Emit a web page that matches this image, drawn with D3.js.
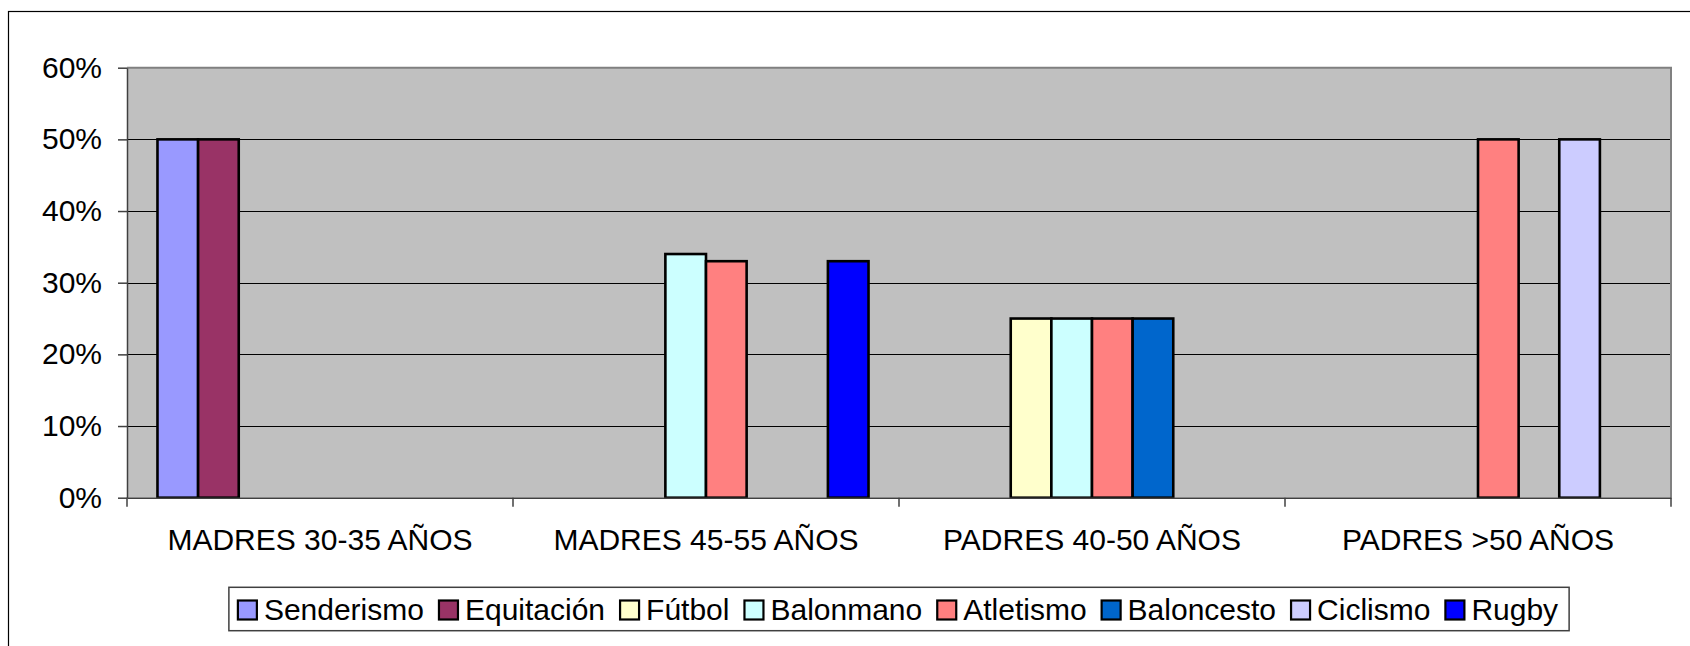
<!DOCTYPE html>
<html>
<head>
<meta charset="utf-8">
<script src="https://cdn.jsdelivr.net/npm/d3@7"></script>
<style>
  body { margin: 0; background: #fff; }
  svg { display: block; font-family: "Liberation Sans", Arial, sans-serif; }
</style>
</head>
<body>
<div id="chart"></div>
<script>
// categorias y series
var categories = ["MADRES 30-35 AÑOS", "MADRES 45-55 AÑOS", "PADRES 40-50 AÑOS", "PADRES >50 AÑOS"];
var seriesNames = ["Senderismo", "Equitación", "Fútbol", "Balonmano", "Atletismo", "Baloncesto", "Ciclismo", "Rugby"];
var seriesColors = ["#9999FF", "#993366", "#FFFFCC", "#CCFFFF", "#FF8080", "#0066CC", "#CCCCFF", "#0000FF"];

// valores por serie (null = sin barra)
var senderismo = [0.50, null, null, null];
var equitacion = [0.50, null, null, null];
var futbol     = [null, null, 0.25, null];
var balonmano  = [null, 0.34, 0.25, null];
var atletismo  = [null, 0.33, 0.25, 0.50];
var baloncesto = [null, null, 0.25, null];
var ciclismo   = [null, null, null, 0.50];
var rugby      = [null, 0.33, null, null];

var yTicks = [0, 0.1, 0.2, 0.3, 0.4, 0.5, 0.6];

var seriesValues = [senderismo, equitacion, futbol, balonmano, atletismo, baloncesto, ciclismo, rugby];

var width = 1690, height = 646;
var fontSize = 30;
var plot = { left: 127, right: 1671, top: 67.7, bottom: 497.7 };

var svg = d3.select("#chart").append("svg")
  .attr("width", width)
  .attr("height", height);

// borde exterior del grafico
svg.append("rect")
  .attr("x", 8.5).attr("y", 11.5)
  .attr("width", 1800).attr("height", 800)
  .attr("fill", "#fff")
  .attr("stroke", "#000")
  .attr("stroke-width", 1.2);

var x0 = d3.scaleBand().domain(categories).range([plot.left, plot.right]).padding(0);
var x1 = d3.scaleBand().domain(seriesNames).range([0, x0.bandwidth()]).paddingInner(0).paddingOuter(0.75);
var y = d3.scaleLinear().domain([0, 0.6]).range([plot.bottom, plot.top]);

// fondo del area de trazado
svg.append("rect")
  .attr("x", plot.left).attr("y", plot.top)
  .attr("width", plot.right - plot.left)
  .attr("height", plot.bottom - plot.top)
  .attr("fill", "#C0C0C0");

// lineas de division
svg.selectAll(".grid")
  .data(yTicks.filter(function(d) { return d > 0 && d < 0.6; }))
  .enter().append("line")
  .attr("x1", plot.left).attr("x2", plot.right)
  .attr("y1", function(d) { return Math.round(y(d)) + 0.5; })
  .attr("y2", function(d) { return Math.round(y(d)) + 0.5; })
  .attr("stroke", "#000")
  .attr("stroke-width", 1);

// borde del area de trazado
svg.append("path")
  .attr("d", "M" + plot.left + "," + plot.top + "H" + plot.right + "V" + plot.bottom)
  .attr("fill", "none")
  .attr("stroke", "#808080")
  .attr("stroke-width", 2);

// barras
var bars = [];
seriesNames.forEach(function(s, i) {
  seriesValues[i].forEach(function(v, j) {
    if (v != null) bars.push({ serie: s, color: seriesColors[i], cat: categories[j], value: v });
  });
});

svg.selectAll(".bar")
  .data(bars)
  .enter().append("rect")
  .attr("class", "bar")
  .attr("x", function(d) { return x0(d.cat) + x1(d.serie); })
  .attr("y", function(d) { return y(d.value); })
  .attr("width", x1.bandwidth())
  .attr("height", function(d) { return y(0) - y(d.value); })
  .attr("fill", function(d) { return d.color; })
  .attr("stroke", "#000")
  .attr("stroke-width", 2.6);

// eje Y
var yAxis = svg.append("g")
  .attr("transform", "translate(" + plot.left + ",0)")
  .call(d3.axisLeft(y).tickValues(yTicks).tickFormat(d3.format(".0%")).tickSize(9).tickPadding(16).tickSizeOuter(0));
yAxis.select(".domain").attr("stroke", "#404040").attr("stroke-width", 1.5);
yAxis.selectAll(".tick line").attr("stroke", "#404040").attr("stroke-width", 1.5);
yAxis.selectAll("text").attr("font-size", fontSize).attr("fill", "#000").attr("font-family", "Liberation Sans, Arial, sans-serif");

// eje X
var xAxis = svg.append("g")
  .attr("transform", "translate(0," + plot.bottom + ")")
  .call(d3.axisBottom(x0).tickSize(0).tickSizeOuter(0));
xAxis.select(".domain").attr("stroke", "#404040").attr("stroke-width", 1.5);
xAxis.selectAll("text")
  .attr("font-size", fontSize).attr("fill", "#000")
  .attr("font-family", "Liberation Sans, Arial, sans-serif")
  .attr("y", 52).attr("dy", null);

// marcas entre categorias
var bounds = categories.map(function(c) { return x0(c); }).concat([plot.right]);
xAxis.selectAll(".sep")
  .data(bounds)
  .enter().append("line")
  .attr("x1", function(d) { return d; }).attr("x2", function(d) { return d; })
  .attr("y1", 0).attr("y2", 9)
  .attr("stroke", "#404040")
  .attr("stroke-width", 1.5);

// leyenda
var legendSize = 19, legendPad = 9, textGap = 7, itemGap = 15;
var legend = svg.append("g");
var legendBox = legend.append("rect")
  .attr("fill", "#fff")
  .attr("stroke", "#404040")
  .attr("stroke-width", 1.5);

var items = legend.selectAll(".legend")
  .data(seriesNames)
  .enter().append("g")
  .attr("class", "legend");

items.append("rect")
  .attr("width", legendSize).attr("height", legendSize)
  .attr("y", 600.5)
  .attr("fill", function(d, i) { return seriesColors[i]; })
  .attr("stroke", "#000")
  .attr("stroke-width", 2.2);

items.append("text")
  .attr("y", 619.5)
  .attr("font-size", fontSize)
  .text(function(d) { return d; });

var xpos = 0;
var offsets = [];
items.each(function(d) {
  var tw = d3.select(this).select("text").node().getComputedTextLength();
  offsets.push(xpos);
  xpos += legendSize + textGap + tw + itemGap;
});
var totalW = xpos - itemGap + legendPad * 2 + 2;
var legendLeft = (plot.left + plot.right) / 2 - totalW / 2;

items.each(function(d, i) {
  var g = d3.select(this);
  var x = legendLeft + legendPad + offsets[i];
  g.select("rect").attr("x", x);
  g.select("text").attr("x", x + legendSize + textGap);
});

legendBox
  .attr("x", legendLeft).attr("y", 587.3)
  .attr("width", totalW).attr("height", 43.4);
</script>
</body>
</html>
